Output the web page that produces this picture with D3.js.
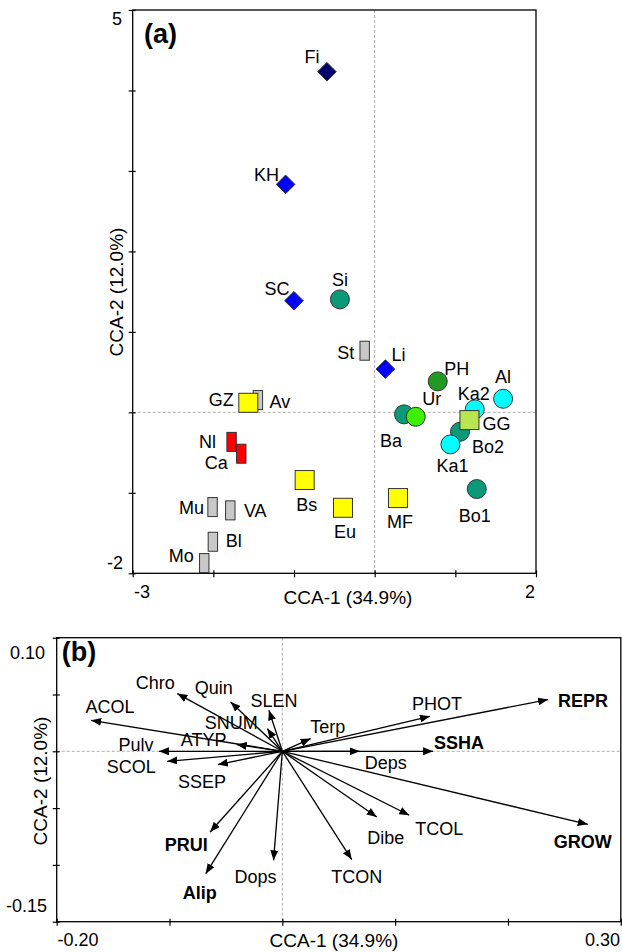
<!DOCTYPE html>
<html lang="en">
<head>
    <meta charset="UTF-8">
    <title>CCA</title>
    <style>
        body,
        html {
            margin: 0;
            padding: 0;
            background: #fff;
        }
        text {
            font-family: "Liberation Sans", Arial, sans-serif;
            fill: #000;
        }
    </style>
    <script src="https://d3js.org/d3.v7.min.js"></script>
</head>
<body>
<div id="chart"></div>
<script>
    // panel (a): sites
    const sites  = ['St','Av','Mu','VA','Bl','Mo','Nl','Ca','GZ','Bs','Eu','MF','Fi','KH','SC','Li',
                    'Si','Ba','Ur','PH','Al','Ka2','Bo2','Ka1','Bo1','GG'];
    const cca1   = [-0.124,-1.448,-2.010,-1.790,-2.006,-2.113,-1.774,-1.654,-1.567,-0.868,-0.393,0.289,
                    -0.592,-1.104,-1.001,0.133,-0.431,0.364,0.509,0.782,1.592,1.241,1.058,0.939,1.266,1.175];
    const cca2   = [0.766,0.153,-1.177,-1.218,-1.608,-1.873,-0.367,-0.514,0.119,-0.841,-1.186,-1.065,
                    4.233,2.833,1.387,0.538,1.404,-0.025,-0.055,0.385,0.169,0.037,-0.241,-0.398,-0.953,-0.096];
    const groups = ['gray','gray','gray','gray','gray','gray','red','red','yellow','yellow','yellow','yellow',
                    'navy','blue','blue','blue','teal','teal','lime','green','cyan','cyan','teal','cyan','teal','olive'];
    const xTicksA = [-3,-2,-1,0,1,2];
    const yTicksA = [-2,-1,0,1,2,3,4,5];

    // panel (b): traits
    const traits = ['REPR','PHOT','SSHA','Deps','Terp','SLEN','SNUM','Quin','Chro','ACOL','ATYP',
                    'Pulv','SCOL','SSEP','PRUI','Alip','Dops','TCON','Dibe','TCOL','GROW'];
    const axis1  = [0.2355,0.1308,0.1336,0.0686,0.0251,-0.0119,-0.0133,-0.0458,-0.0931,-0.1695,-0.0405,
                    -0.1094,-0.102,-0.0571,-0.064,-0.0679,-0.0078,0.0615,0.0837,0.1125,0.2707];
    const axis2  = [0.0455,0.0308,0,0,0.0112,0.0361,0.020,0.0434,0.0508,0.0273,0.0059,
                    0,-0.0088,-0.0117,-0.071,-0.1077,-0.096,-0.0953,-0.0578,-0.0563,-0.0643];
    const boldTraits = ['REPR','SSHA','GROW','PRUI','Alip'];
    const xTicksB = [-0.2,-0.1,0,0.1,0.2,0.3];
    const yTicksB = [-0.15,-0.10,-0.05,0,0.05,0.10];

    // label offsets (px) from the mark
    const labA = {St:[-19,2],Av:[22,2],Mu:[-21,1],VA:[25,0],Bl:[21,-1],Mo:[-23,-7],Nl:[-24,0],Ca:[-25,9],
        GZ:[-27,-3],Bs:[2,25],Eu:[2,24],MF:[2,24],Fi:[-15,-15],KH:[-19,-10],SC:[-17,-12],Li:[13,-14],
        Si:[0,-20],Ba:[-13,26],Ur:[16,-18],PH:[19,-13],Al:[0,-22],Ka2:[-1,-16],Bo2:[28,15],Ka1:[2,21],
        Bo1:[-2,27],GG:[27,4]};
    const labB = {REPR:[35,1],PHOT:[7,-13],SSHA:[26,-9],Deps:[26,11],Terp:[17,-12],SLEN:[5,-10],
        SNUM:[-36,-6],Quin:[-17,-14],Chro:[-22,-11],ACOL:[19,-14],ATYP:[-33,-5],Pulv:[-23,-7],
        SCOL:[-36,5],SSEP:[-16,17],PRUI:[-24,13],Alip:[-6,19],Dops:[-18,16],TCON:[5,17],Dibe:[9,21],
        TCOL:[30,13],GROW:[-5,17]};

    const style = {
        gray:  {shape:'rect',    fill:'#c8c8c8'},
        red:   {shape:'rect',    fill:'#ff0000'},
        yellow:{shape:'square',  fill:'#ffff00'},
        olive: {shape:'square',  fill:'#b8e650'},
        navy:  {shape:'diamond', fill:'#000070'},
        blue:  {shape:'diamond', fill:'#0000ff'},
        teal:  {shape:'circle',  fill:'#0a9a78'},
        green: {shape:'circle',  fill:'#229922'},
        lime:  {shape:'circle',  fill:'#3cf000'},
        cyan:  {shape:'circle',  fill:'#00ffff'}
    };

    const width = 622, height = 952;
    const svg = d3.select('#chart').append('svg')
        .attr('width', width).attr('height', height);

    const defs = svg.append('defs');
    defs.append('marker')
        .attr('id','arrow')
        .attr('markerUnits','userSpaceOnUse')
        .attr('viewBox','0 0 10 8')
        .attr('refX',10).attr('refY',4)
        .attr('markerWidth',10).attr('markerHeight',8)
        .attr('orient','auto')
        .append('path').attr('d','M0,0L10,4L0,8Z').attr('fill','#000');

    function frame(x, y, xt, yt) {
        const [x0, x1] = x.range(), [y0, y1] = y.range();
        const g = svg.append('g');
        // zero lines
        g.append('line').attr('x1', x(0)).attr('x2', x(0)).attr('y1', y1).attr('y2', y0)
            .attr('stroke','#999').attr('stroke-width',0.8).attr('stroke-dasharray','3,2');
        g.append('line').attr('x1', x0).attr('x2', x1).attr('y1', y(0)).attr('y2', y(0))
            .attr('stroke','#999').attr('stroke-width',0.8).attr('stroke-dasharray','3,2');
        g.append('rect').attr('x', x0).attr('y', y1).attr('width', x1 - x0).attr('height', y0 - y1)
            .attr('fill','none').attr('stroke','#000').attr('stroke-width',1.3);
        const ax = g.append('g').attr('transform','translate(0,' + y0 + ')')
            .call(d3.axisBottom(x).tickValues(xt).tickSize(4).tickFormat(''));
        const ay = g.append('g').attr('transform','translate(' + x0 + ',0)')
            .call(d3.axisLeft(y).tickValues(yt).tickSize(4).tickFormat(''));
        ax.select('.domain').remove();
        ay.select('.domain').remove();
        ax.selectAll('.tick line').attr('y1',-3).attr('stroke-width',1.2);
        ay.selectAll('.tick line').attr('x1',3).attr('stroke-width',1.2);
        return g;
    }

    function label(t, x, y, opt) {
        const e = svg.append('text').attr('x', x).attr('y', y).attr('dy','0.35em')
            .attr('font-size', (opt && opt.size) || 18)
            .attr('text-anchor', (opt && opt.anchor) || 'middle')
            .text(t);
        if (opt && opt.bold) e.attr('font-weight','bold');
        if (opt && opt.rotate) e.attr('transform','rotate(-90,' + x + ',' + y + ')');
        return e;
    }

    // ---------- panel (a)
    const xA = d3.scaleLinear().domain([-3, 2]).range([132.7, 536]);
    const yA = d3.scaleLinear().domain([-2, 5]).range([573.3, 10]);
    frame(xA, yA, xTicksA, yTicksA);

    const pts = sites.map((s, i) => ({name: s, x: xA(cca1[i]), y: yA(cca2[i]), st: style[groups[i]]}));
    const gA = svg.append('g');
    pts.forEach(p => {
        const c = {fill: p.st.fill, stroke: '#333', 'stroke-width': 1};
        let e;
        if (p.st.shape === 'circle') {
            e = gA.append('circle').attr('cx', p.x).attr('cy', p.y).attr('r', 9.5);
        } else if (p.st.shape === 'square') {
            e = gA.append('rect').attr('x', p.x - 9.5).attr('y', p.y - 9.5).attr('width', 19).attr('height', 19);
        } else if (p.st.shape === 'rect') {
            e = gA.append('rect').attr('x', p.x - 4.7).attr('y', p.y - 9.5).attr('width', 9.4).attr('height', 19);
        } else {
            const r = 9.3;
            e = gA.append('path').attr('d', `M${p.x},${p.y - r}L${p.x + r},${p.y}L${p.x},${p.y + r}L${p.x - r},${p.y}Z`);
        }
        Object.keys(c).forEach(k => e.attr(k, c[k]));
    });
    pts.forEach(p => {
        const o = labA[p.name] || [0, -18];
        label(p.name, p.x + o[0], p.y + o[1]);
    });

    label('(a)', 160.5, 34, {size: 27, bold: true});
    label('5', 122, 19, {anchor: 'end'});
    label('-2', 123, 563, {anchor: 'end'});
    label('-3', 134, 592, {anchor: 'start'});
    label('2', 535, 592, {anchor: 'end'});
    label('CCA-1 (34.9%)', 348, 597, {size: 19});
    label('CCA-2 (12.0%)', 116.7, 292, {size: 19, rotate: true});

    // ---------- panel (b)
    const xB = d3.scaleLinear().domain([-0.2, 0.3]).range([56.7, 620.8]);
    const yB = d3.scaleLinear().domain([-0.15, 0.10]).range([921.7, 637.7]);
    frame(xB, yB, xTicksB, yTicksB);

    const gB = svg.append('g');
    traits.forEach((t, i) => {
        gB.append('line')
            .attr('x1', xB(0)).attr('y1', yB(0))
            .attr('x2', xB(axis1[i])).attr('y2', yB(axis2[i]))
            .attr('stroke','#000').attr('stroke-width',1.3)
            .attr('marker-end','url(#arrow)');
    });
    traits.forEach((t, i) => {
        const o = labB[t];
        label(t, xB(axis1[i]) + o[0], yB(axis2[i]) + o[1], {bold: boldTraits.includes(t)});
    });

    label('(b)', 79, 652, {size: 27, bold: true});
    label('0.10', 45, 653, {anchor: 'end'});
    label('-0.15', 47, 906, {anchor: 'end'});
    label('-0.20', 57.5, 940, {anchor: 'start'});
    label('0.30', 620, 940, {anchor: 'end'});
    label('CCA-1 (34.9%)', 334, 940, {size: 19});
    label('CCA-2 (12.0%)', 40, 781, {size: 19, rotate: true});
</script>
</body>
</html>
